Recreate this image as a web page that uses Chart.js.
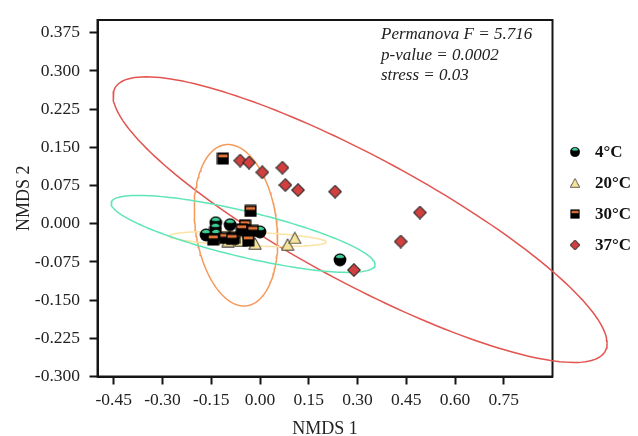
<!DOCTYPE html>
<html><head><meta charset="utf-8">
<script src="https://cdn.jsdelivr.net/npm/chart.js@4/dist/chart.umd.min.js"></script>
<style>html,body{margin:0;padding:0;background:#fff;}#wrap{width:638px;height:436px;}</style>
</head><body><div id="wrap"><canvas id="c" width="638" height="436"></canvas></div>
<script>
// ---- data ----
const groups = ['4°C', '20°C', '30°C', '37°C'];
const x4  = [-0.166, -0.136, -0.137, -0.092, -0.135, -0.052, 0.000, 0.246];
const y4  = [-0.022,  0.002, -0.010, -0.002, -0.022, -0.013, -0.016, -0.071];
const x20 = [-0.098, -0.059, -0.015, 0.085, 0.107];
const y20 = [-0.034, -0.033, -0.039, -0.041, -0.028];
const x30 = [-0.114, -0.029, -0.144, -0.108, -0.080, -0.046, -0.056, -0.022, -0.036, -0.086];
const y30 = [ 0.128,  0.025, -0.031, -0.028, -0.028, -0.003, -0.011, -0.014, -0.033, -0.030];
const x37 = [-0.061, -0.034, 0.007, 0.069, 0.078, 0.117, 0.231, 0.492, 0.433, 0.289];
const y37 = [ 0.124,  0.120, 0.101, 0.110, 0.076, 0.066, 0.063, 0.022, -0.035, -0.091];
const xTicks = [-0.45, -0.30, -0.15, 0.00, 0.15, 0.30, 0.45, 0.60, 0.75];
const yTicks = [-0.300, -0.225, -0.150, -0.075, 0.000, 0.075, 0.150, 0.225, 0.300, 0.375];
const statLines = ['Permanova F = 5.716', 'p-value = 0.0002', 'stress = 0.03'];
// confidence ellipses (centre, conjugate semi-axis vectors) in data units, one per group
const ellCx = [-0.052, -0.037, -0.074, 0.308];
const ellCy = [-0.020, -0.030, -0.003, 0.008];
const ellAx = [ 0.406,  0.240, -0.0246, 0.760];
const ellAy = [-0.060, -0.006,  0.1586, -0.243];
const ellBx = [ 0.000,  0.000,  0.126, 0.000];
const ellBy = [ 0.046,  0.0135, 0.000, 0.140];
const ellColors = ['#5fe6b6', '#fbe3a4', '#f69a5c', '#e25450'];

// ---- markers ----
function mk(w, h, draw) { const c = document.createElement('canvas'); c.width = w; c.height = h; draw(c.getContext('2d'), w, h); return c; }
const mCircle = mk(14, 14, (g) => {
  g.fillStyle = '#000'; g.beginPath(); g.arc(7, 7, 6.4, 0, Math.PI * 2); g.fill();
  g.save(); g.beginPath(); g.arc(7, 7, 5.3, 0, Math.PI * 2); g.clip();
  g.fillStyle = '#3fcf98'; g.beginPath(); g.ellipse(7, 2.9, 4.6, 2.3, 0, 0, Math.PI * 2); g.fill(); g.restore();
});
const mTri = mk(14, 13, (g) => {
  g.beginPath(); g.moveTo(7, 0.8); g.lineTo(13.2, 12.2); g.lineTo(0.8, 12.2); g.closePath();
  g.fillStyle = '#f6e39b'; g.fill(); g.strokeStyle = '#333'; g.lineWidth = 1; g.stroke();
});
const mSq = mk(13, 13, (g) => {
  g.fillStyle = '#000'; g.fillRect(0.5, 0.5, 12, 12);
  g.fillStyle = '#e6773a'; g.fillRect(2, 2.5, 9, 2.8);
});
const mDia = mk(14, 14, (g) => {
  g.beginPath(); g.moveTo(7, 0.7); g.lineTo(13.3, 7); g.lineTo(7, 13.3); g.lineTo(0.7, 7); g.closePath();
  g.fillStyle = '#d23f3f'; g.fill(); g.strokeStyle = '#2a2a2a'; g.lineWidth = 1.1; g.stroke();
});
const markers = [mCircle, mTri, mSq, mDia];

const xs = [x4, x20, x30, x37], ys = [y4, y20, y30, y37];
const datasets = [];
for (let i = 0; i < 4; i++) {
  datasets.push({
    label: groups[i], data: xs[i].map((v, k) => ({ x: v, y: ys[i][k] })),
    pointStyle: markers[i], pointRadius: 7, showLine: false, order: 4 - i
  });
}
for (let i = 0; i < 4; i++) {
  const pts = [];
  for (let k = 0; k <= 180; k++) {
    const t = k / 180 * Math.PI * 2;
    pts.push({ x: ellCx[i] + ellAx[i] * Math.cos(t) + ellBx[i] * Math.sin(t),
               y: ellCy[i] + ellAy[i] * Math.cos(t) + ellBy[i] * Math.sin(t) });
  }
  datasets.push({ label: 'ellipse ' + groups[i], data: pts, showLine: true, pointRadius: 0,
    borderColor: ellColors[i], borderWidth: 1.5, fill: false, tension: 0, order: 10 + i, clip: false });
}

const serif = 'Liberation Serif';
const framePlugin = {
  id: 'frame',
  beforeDatasetsDraw(chart) {
    const { ctx, chartArea: a } = chart;
    ctx.save(); ctx.strokeStyle = '#151515'; ctx.lineWidth = 2;
    ctx.strokeRect(a.left, a.top, a.right - a.left, a.bottom - a.top); ctx.restore();
  },
  afterDraw(chart) {
    const { ctx } = chart;
    ctx.save();
    ctx.fillStyle = '#222'; ctx.font = 'italic 17px "' + serif + '"'; ctx.textBaseline = 'middle'; ctx.textAlign = 'left';
    statLines.forEach((s, i) => ctx.fillText(s, 381, 35 + i * 20.5));
    // legend
    const ly = [152, 183, 214, 245];
    ctx.font = 'bold 17px "' + serif + '"'; ctx.fillStyle = '#111';
    for (let i = 0; i < 4; i++) {
      const m = markers[i];
      const w = m.width * 0.78, h = m.height * 0.78;
      ctx.drawImage(m, 575 - w / 2, ly[i] - h / 2, w, h);
      ctx.fillText(groups[i], 595, ly[i] + 1);
    }
    ctx.restore();
  }
};

new Chart(document.getElementById('c'), {
  type: 'scatter',
  data: { datasets },
  plugins: [framePlugin],
  options: {
    responsive: false, animation: false, devicePixelRatio: 1, events: [],
    layout: { padding: { left: 0, right: 85.5, top: 14.5, bottom: 0 } },
    plugins: { legend: { display: false }, tooltip: { enabled: false } },
    scales: {
      x: {
        type: 'linear', min: -0.5, max: 0.9,
        afterBuildTicks: (s) => { s.ticks = xTicks.map(v => ({ value: v })); },
        afterFit: (s) => { s.height = 59.5; },
        grid: { drawOnChartArea: false, tickLength: 8, tickWidth: 2, tickColor: '#151515' },
        border: { display: true, width: 2, color: '#151515' },
        ticks: { font: { family: serif, size: 17.5 }, color: '#222', padding: 5, maxRotation: 0, autoSkip: false,
                 callback: (v) => Number(v).toFixed(2) },
        title: { display: true, text: 'NMDS 1', font: { family: serif, size: 18, lineHeight: 0.8 }, color: '#222', padding: { top: 0, bottom: 0 } }
      },
      y: {
        type: 'linear', min: -0.3, max: 0.4,
        afterBuildTicks: (s) => { s.ticks = yTicks.map(v => ({ value: v })); },
        afterFit: (s) => { s.width = 97.5; },
        grid: { drawOnChartArea: false, tickLength: 8, tickWidth: 2, tickColor: '#151515' },
        border: { display: true, width: 2, color: '#151515' },
        ticks: { font: { family: serif, size: 17.5 }, color: '#222', padding: 9.5, autoSkip: false,
                 callback: (v) => Number(v).toFixed(3) },
        title: { display: true, text: 'NMDS 2', font: { family: serif, size: 18 }, color: '#222', padding: { top: 13, bottom: 0 } }
      }
    }
  }
});
</script></body></html>
